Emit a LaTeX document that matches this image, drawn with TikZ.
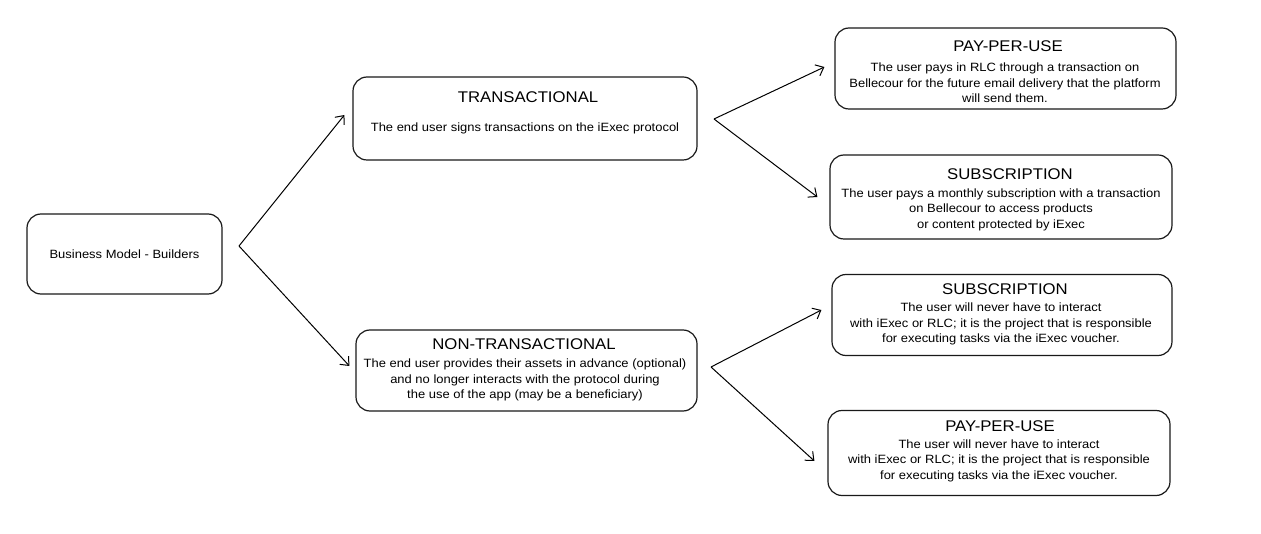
\documentclass[tikz,border=0pt]{standalone}
\usepackage{fontspec}
\setmainfont[FakeStretch=1.08]{Liberation Sans}
\usetikzlibrary{arrows.meta}
\begin{document}
\begin{tikzpicture}[x=1pt,y=-1pt,
  box/.style={draw=black!90, line width=1.2pt, rounded corners=14pt, inner sep=0pt},
  ttl/.style={font=\fontsize{15.5}{17}\selectfont, inner sep=0pt},
  body/.style={font=\fontsize{12}{15.6}\selectfont, align=center, inner sep=0pt},
  arr/.style={line width=1pt, -{Straight Barb[length=7pt,width=12pt,line width=1pt]}}]
\useasboundingbox (0,0) rectangle (1261,534);

% boxes
\node[box, minimum width=195pt, minimum height=80pt] (biz) at (124.5,254) {};
\node[box, minimum width=344pt, minimum height=83pt] (trans) at (525,118.5) {};
\node[box, minimum width=341pt, minimum height=81pt] (nontrans) at (526.5,370.5) {};
\node[box, minimum width=341pt, minimum height=81pt] (ppuA) at (1005.5,68.5) {};
\node[box, minimum width=342pt, minimum height=84pt] (subA) at (1001,197) {};
\node[box, minimum width=340pt, minimum height=81pt] (subB) at (1002,315) {};
\node[box, minimum width=342pt, minimum height=85pt] (ppuB) at (999,453) {};

% texts
\node[body] (bizt) at (124.5,254) {Business Model - Builders};

\node[ttl] (transT) at (528,97) {TRANSACTIONAL};
\node[body] (transB) at (525,128) {The end user signs transactions on the iExec protocol};

\node[ttl] (nontransT) at (524,344) {NON-TRANSACTIONAL};
\node[body] (nontransB) at (525,380) {The end user provides their assets in advance (optional)\\and no longer interacts with the protocol during\\the use of the app (may be a beneficiary)};

\node[ttl] (ppuAT) at (1008,46) {PAY-PER-USE};
\node[body] (ppuAB) at (1005,83) {The user pays in RLC through a transaction on\\Bellecour for the future email delivery that the platform\\will send them.};

\node[ttl] (subAT) at (1010,174) {SUBSCRIPTION};
\node[body] (subAB) at (1001,209.5) {The user pays a monthly subscription with a transaction\\on Bellecour to access products\\or content protected by iExec};

\node[ttl] (subBT) at (1005,289) {SUBSCRIPTION};
\node[body] (subBB) at (1001,324) {The user will never have to interact\\with iExec or RLC; it is the project that is responsible\\for executing tasks via the iExec voucher.};

\node[ttl] (ppuBT) at (1000,426) {PAY-PER-USE};
\node[body] (ppuBB) at (999,460.5) {The user will never have to interact\\with iExec or RLC; it is the project that is responsible\\for executing tasks via the iExec voucher.};

% forks
\coordinate (f1) at (239,246);
\coordinate (f2) at (714,119);
\coordinate (f3) at (711,367);

\draw[arr] (f1) -- ([xshift=-8pt,yshift=3.5pt]trans.west);
\draw[arr] (f1) -- ([xshift=-6pt,yshift=4.5pt]nontrans.west);
\draw[arr] (f2) -- ([xshift=-10pt,yshift=1.5pt]ppuA.west);
\draw[arr] (f2) -- ([xshift=-12pt]subA.west);
\draw[arr] (f3) -- ([xshift=-10pt,yshift=5pt]subB.west);
\draw[arr] (f3) -- ([xshift=-13pt,yshift=-8pt]ppuB.west);
\end{tikzpicture}
\end{document}
